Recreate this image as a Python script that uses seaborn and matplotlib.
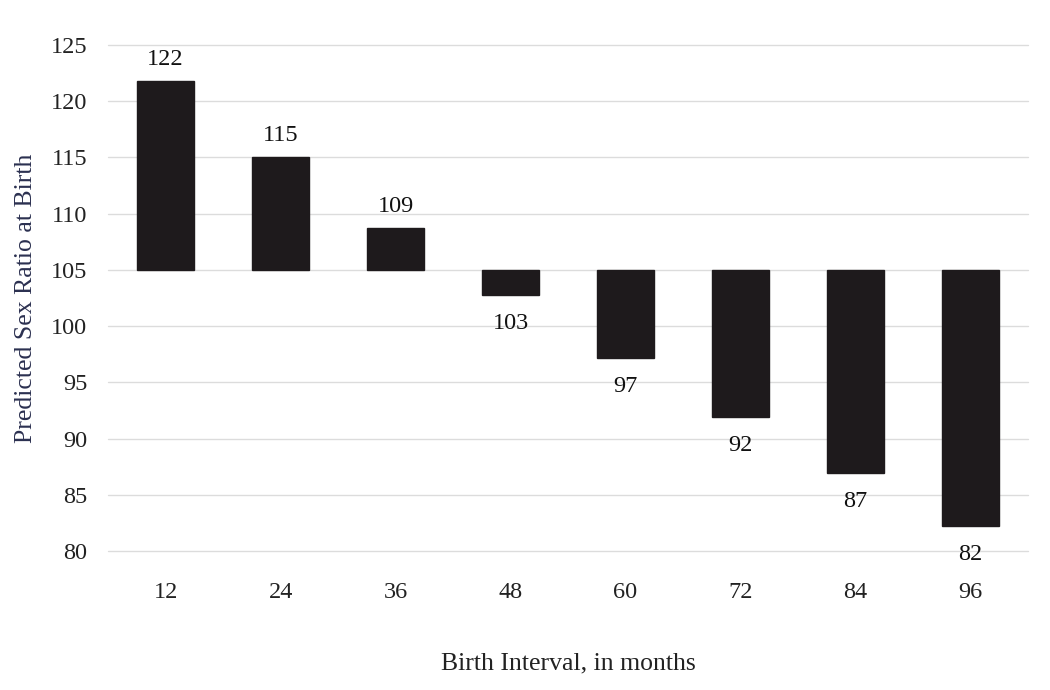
import pandas as pd
import matplotlib.pyplot as plt
import seaborn as sns

# Predicted sex ratio by birth interval
intervals = ["12", "24", "36", "48", "60", "72", "84", "96"]
ratios = [121.8, 115.0, 108.7, 102.8, 97.2, 91.9, 86.9, 82.2]
labels = ["122", "115", "109", "103", "97", "92", "87", "82"]
baseline = 105

df = pd.DataFrame({"interval": intervals, "ratio": ratios})
df["diff"] = df["ratio"] - baseline

sns.set_theme(style="white")
plt.rcParams["font.family"] = ["Liberation Serif", "DejaVu Serif"]

fig = plt.figure(figsize=(10.5, 6.9), dpi=100)
ax = fig.add_axes([0.103, 0.2014, 0.876, 0.7335])

sns.barplot(data=df, x="interval", y="diff", bottom=baseline, color="#1e1a1c",
            edgecolor="#1e1a1c", width=0.5, saturation=1, ax=ax, zorder=3)

ax.set_ylim(80, 125)
ax.set_xlim(-0.5, len(intervals) - 0.5)
ax.set_yticks(range(80, 126, 5))
ax.yaxis.grid(True, color="#dcdcdc", linewidth=1)
for gl in ax.get_ygridlines():
    gl.set_clip_on(False)
for s in ax.spines.values():
    s.set_visible(False)
ax.tick_params(axis="x", length=0, pad=22, labelsize=17.5, colors="#222222")
ax.tick_params(axis="y", length=0, pad=15, labelsize=17.5, colors="#222222")

for i, (v, t) in enumerate(zip(ratios, labels)):
    if v >= baseline:
        ax.annotate(t, (i, v), xytext=(0, 8), textcoords="offset points",
                    ha="center", va="bottom", fontsize=17.5, color="#111111")
    else:
        ax.annotate(t, (i, v), xytext=(0, -13), textcoords="offset points",
                    ha="center", va="top", fontsize=17.5, color="#111111")

ax.set_xlabel("Birth Interval, in months", fontsize=18.5, color="#222222", labelpad=36)
ax.set_ylabel("Predicted Sex Ratio at Birth", fontsize=18.5, color="#2b3050", labelpad=10)

fig.savefig("out.png", dpi=100)
plt.close()
